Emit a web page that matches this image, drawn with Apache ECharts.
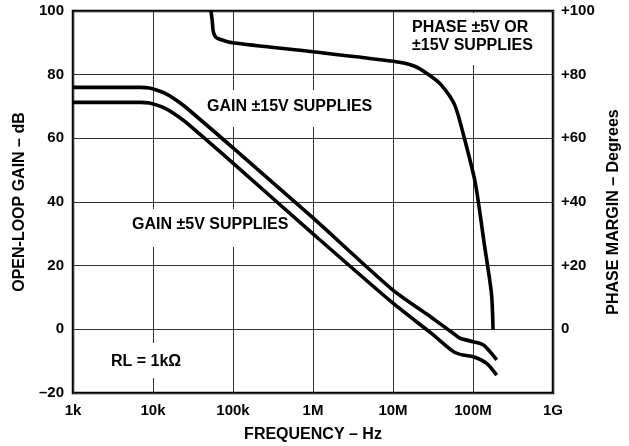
<!DOCTYPE html>
<html><head><meta charset="utf-8">
<script src="https://cdn.jsdelivr.net/npm/echarts@6.0.0/dist/echarts.min.js"></script>
<style>html,body{margin:0;padding:0;background:#fff}#c{width:629px;height:446px}</style>
</head><body><div id="c"></div>
<script>
const freqTicks = [1e3, 1e4, 1e5, 1e6, 1e7, 1e8, 1e9];
const freqTickLabels = ['1k', '10k', '100k', '1M', '10M', '100M', '1G'];
const gainTicks = [-20, 0, 20, 40, 60, 80, 100];
const gainTickLabels = ['\u201320', '0', '20', '40', '60', '80', '100'];
const phaseTickLabels = ['', '0', '+20', '+40', '+60', '+80', '+100'];

const gain15V = [[1e3,76],[7e3,76],[9e3,75.8],[11e3,75.2],[14e3,74.2],[18e3,72.6],[25e3,70],[1e5,57],[1e6,35],[1e7,12.3],[3e7,3.8],[5.7e7,-1.3],[6.9e7,-2.8],[1.01e8,-3.9],[1.35e8,-4.9],[1.63e8,-7],[1.98e8,-9.6]];
const gain5V = [[1e3,71.3],[7e3,71.3],[9e3,71.1],[11e3,70.5],[14e3,69.5],[18e3,67.9],[25e3,65.3],[1e5,52.2],[1e6,30],[1e7,8.2],[3e7,-1.2],[5.7e7,-7],[7.5e7,-8.1],[1.01e8,-8.6],[1.48e8,-10.7],[1.98e8,-14.4]];
const phaseMargin = [[5.3e4,100],[5.5e4,97],[5.67e4,93.5],[6.0e4,92],[6.55e4,91.3],[1e5,90],[1e6,87.2],[1e7,84.2],[1.8e7,82.8],[2.8e7,80],[4e7,76.8],[5.9e7,70.5],[7.8e7,60],[1.07e8,45.9],[1.38e8,27],[1.7e8,11.3],[1.78e8,0]];

const FONT = '"Liberation Sans", Arial, Helvetica, sans-serif';
const chart = echarts.init(document.getElementById('c'), null, {renderer: 'canvas'});
const lineStyle = {color: '#000', width: 3.6};
const splitStyle = {color: '#333', width: 1};
const labelStyle = {color: '#000', fontFamily: FONT, fontWeight: 'bold', fontSize: 15};

function box(x, y, w, h) {
  return {type: 'rect', z: 1, shape: {x, y, width: w, height: h}, style: {fill: '#fff'}, silent: true};
}
function txt(x, y, s) {
  return {type: 'text', z: 5, x, y, style: {text: s, fill: '#000', font: 'bold 16px ' + FONT, textAlign: 'left', textVerticalAlign: 'middle', verticalAlign: 'middle', align: 'left'}, silent: true};
}

chart.setOption({
  animation: false,
  backgroundColor: '#fff',
  grid: {left: 73, right: 76, top: 11, bottom: 53, show: true, borderColor: '#000', borderWidth: 2.5, backgroundColor: 'transparent', containLabel: false, outerBoundsMode: 'none'},
  xAxis: {
    type: 'log', logBase: 10, min: 1e3, max: 1e9, splitNumber: 6,
    axisLine: {show: false}, axisTick: {show: false},
    splitLine: {show: true, lineStyle: splitStyle},
    minorSplitLine: {show: false},
    axisLabel: Object.assign({margin: 10, formatter: v => freqTickLabels[freqTicks.findIndex(t => Math.abs(Math.log10(t) - Math.log10(v)) < 1e-6)] || ''}, labelStyle),
    name: 'FREQUENCY \u2013 Hz', nameLocation: 'middle', nameGap: 34,
    nameTextStyle: {color: '#000', fontFamily: FONT, fontWeight: 'bold', fontSize: 16}
  },
  yAxis: [{
    type: 'value', min: -20, max: 100, interval: 20,
    axisLine: {show: false}, axisTick: {show: false},
    splitLine: {show: true, lineStyle: splitStyle},
    axisLabel: Object.assign({margin: 9, formatter: v => gainTickLabels[gainTicks.indexOf(v)]}, labelStyle),
    name: 'OPEN-LOOP GAIN \u2013 dB', nameLocation: 'middle', nameGap: 43,
    nameTextStyle: {color: '#000', fontFamily: FONT, fontWeight: 'bold', fontSize: 16}
  }, {
    type: 'value', min: -20, max: 100, interval: 20, position: 'right',
    axisLine: {show: false}, axisTick: {show: false},
    splitLine: {show: false},
    axisLabel: Object.assign({margin: 8, formatter: v => phaseTickLabels[gainTicks.indexOf(v)]}, labelStyle),
    name: 'PHASE MARGIN \u2013 Degrees', nameLocation: 'middle', nameGap: 51, nameRotate: 90,
    nameTextStyle: {color: '#000', fontFamily: FONT, fontWeight: 'bold', fontSize: 16, padding: [0, 20, 0, 0]}
  }],
  graphic: [
    box(400, 13, 150, 52), txt(412, 28, 'PHASE \u00b15V OR'), txt(412, 46, '\u00b115V SUPPLIES'),
    box(200, 90, 184, 37), txt(207, 107, 'GAIN \u00b115V SUPPLIES'),
    box(125, 209, 172, 38), txt(132, 225, 'GAIN \u00b15V SUPPLIES'),
    box(104, 343, 86, 35), txt(111, 362, 'RL = 1k\u03a9')
  ],
  series: [
    {name: 'GAIN \u00b115V SUPPLIES', type: 'line', data: gain15V, yAxisIndex: 0, showSymbol: false, smooth: 0.25, lineStyle, z: 3},
    {name: 'GAIN \u00b15V SUPPLIES', type: 'line', data: gain5V, yAxisIndex: 0, showSymbol: false, smooth: 0.25, lineStyle, z: 3},
    {name: 'PHASE \u00b15V OR \u00b115V SUPPLIES', type: 'line', data: phaseMargin, yAxisIndex: 1, showSymbol: false, smooth: 0.25, lineStyle, z: 3}
  ]
});
</script>
</body></html>
